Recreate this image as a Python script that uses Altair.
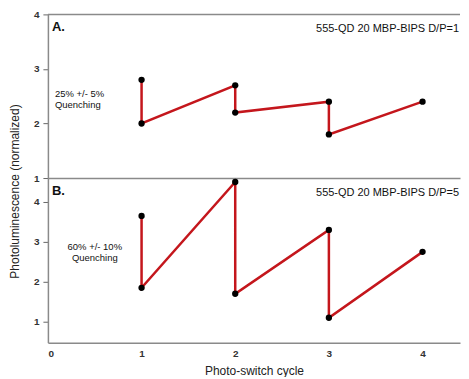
import altair as alt
import pandas as pd

cycle = [1, 1, 2, 2, 3, 3, 4]
order_idx = [0, 1, 2, 3, 4, 5, 6]
top_vals = [2.8, 2.0, 2.7, 2.2, 2.4, 1.8, 2.4]
bot_vals = [3.65, 1.85, 4.5, 1.7, 3.3, 1.1, 2.75]
x_ticks = [0, 1, 2, 3, 4]
y_ticks = [1, 2, 3, 4]

FONT = "Liberation Sans"
RED = "#c4161c"
AX = "#8a8a8a"
W = 413

top_df = pd.DataFrame({"cycle": cycle, "val": top_vals, "i": order_idx})
bot_df = pd.DataFrame({"cycle": cycle, "val": bot_vals, "i": order_idx})


def panel(df, ydom, show_x, ytitle, letter, label, quench, qx, qy, qalign):
    xaxis = alt.Axis(values=x_ticks, title="Photo-switch cycle" if show_x else None,
                     labels=show_x, ticks=False, grid=False, domainColor=AX, domainWidth=1.5,
                     labelFont=FONT, labelFontSize=10, labelFontWeight="bold", labelColor="#333",
                     labelPadding=6, titleFont=FONT, titleFontSize=12, titleFontWeight="normal",
                     titleColor="#222", titlePadding=7, format="d")
    yaxis_kwargs = dict(values=y_ticks, grid=False, domainColor=AX, domainWidth=1.5,
                        tickColor="#666", tickSize=5, labelFont=FONT, labelFontSize=10,
                        labelFontWeight="bold", labelColor="#333", labelPadding=4, format="d")
    if ytitle:
        yaxis = alt.Axis(title=ytitle, titleX=-33, titleY=13, titleBaseline="middle",
                         titleFont=FONT, titleFontSize=12, titleFontWeight="normal",
                         titleColor="#222", **yaxis_kwargs)
    else:
        yaxis = alt.Axis(title=None, **yaxis_kwargs)
    x = alt.X("cycle:Q", scale=alt.Scale(domain=[0, 4.4], nice=False, zero=False), axis=xaxis)
    y = alt.Y("val:Q", scale=alt.Scale(domain=ydom, nice=False, zero=False), axis=yaxis)
    base = alt.Chart(df)
    line = base.mark_line(color=RED, strokeWidth=2.5).encode(x=x, y=y, order="i:Q")
    pts = base.mark_point(filled=True, color="black", size=40, opacity=1).encode(x=x, y=y)
    lab = pd.DataFrame({"a": [0]})
    t_letter = alt.Chart(lab).mark_text(font=FONT, fontSize=13, fontWeight="bold", align="left",
                                        baseline="middle", color="#111").encode(
        x=alt.value(4), y=alt.value(13), text=alt.value(letter))
    t_label = alt.Chart(lab).mark_text(font=FONT, fontSize=11, align="right",
                                       baseline="middle", color="#111").encode(
        x=alt.value(412), y=alt.value(15), text=alt.value(label))
    t_q = alt.Chart(lab).mark_text(font=FONT, fontSize=9.5, align=qalign, baseline="middle",
                                   color="#111", lineBreak="\n", lineHeight=11).encode(
        x=alt.value(qx), y=alt.value(qy), text=alt.value(quench))
    layers = [line, pts, t_letter, t_label, t_q]
    if not show_x:
        border = alt.Chart(lab).mark_rule(color=AX, strokeWidth=1.5).encode(y=alt.value(0))
        layers.insert(0, border)
    return alt.layer(*layers).properties(width=W, height=164 if not show_x else 165)


top = panel(top_df, [1, 4], False, None, "A.", "555-QD 20 MBP-BIPS D/P=1",
            "25% +/- 5%\nQuenching", 7, 80, "left")
bot = panel(bot_df, [0.475, 4.6], True, "Photoluminescence (normalized)", "B.",
            "555-QD 20 MBP-BIPS D/P=5", "60% +/- 10%\nQuenching", 47, 69, "center")

chart = alt.vconcat(top, bot, spacing=0, bounds="flush").properties(
    padding={"left": 0, "top": 1, "right": 0, "bottom": 0}
).configure_view(stroke=None)

chart.save("out.html", embed_options={"renderer": "svg", "actions": False})
